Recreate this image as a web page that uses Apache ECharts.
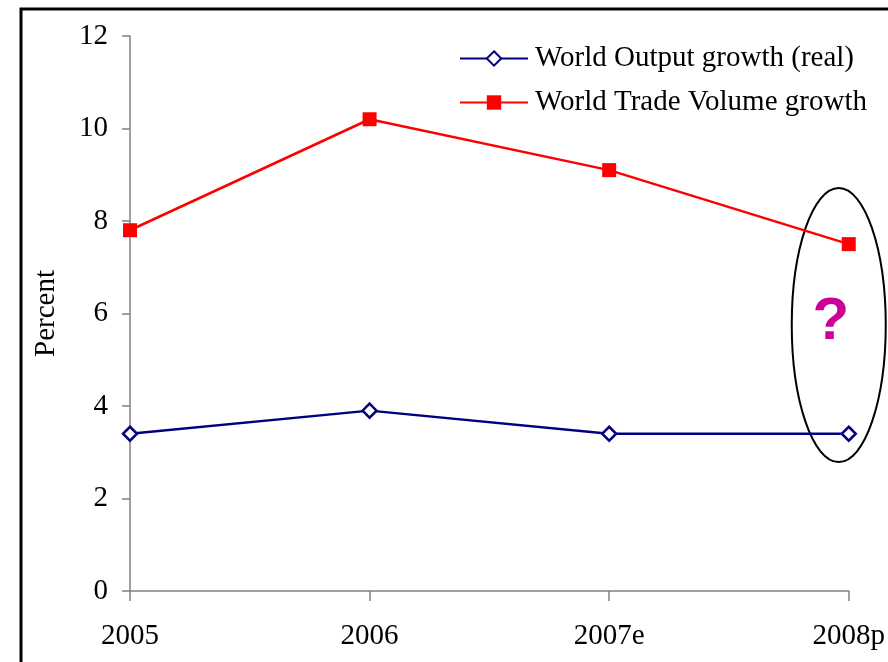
<!DOCTYPE html>
<html>
<head>
<meta charset="utf-8">
<script src="https://cdn.jsdelivr.net/npm/echarts@6/dist/echarts.min.js"></script>
<style>
  html, body { margin: 0; padding: 0; background: #fff; }
  #main { width: 888px; height: 662px; }
</style>
</head>
<body>
<div id="main"></div>
<script>
  // categories and values
  const years = ['2005', '2006', '2007e', '2008p'];
  const outputGrowth = [3.4, 3.9, 3.4, 3.4];
  const tradeGrowth = [7.8, 10.2, 9.1, 7.5];
  const seriesNames = ['World Output growth (real)', 'World Trade Volume growth'];

  const serif = '"Liberation Serif", "DejaVu Serif", serif';

  const chart = echarts.init(document.getElementById('main'));
  const option = {
    backgroundColor: '#fff',
    animation: false,
    textStyle: { fontFamily: serif },
    grid: {
      left: 130,
      right: 38,
      top: 36,
      bottom: 71
    },
    legend: {
      orient: 'vertical',
      left: 454,
      top: 39,
      itemWidth: 68,
      itemHeight: 18,
      itemGap: 15,
      textStyle: { fontFamily: serif, fontSize: 29, color: '#000', padding: [0, 0, 0, 2] },
      data: seriesNames
    },
    xAxis: {
      type: 'category',
      boundaryGap: false,
      data: years,
      axisLine: { lineStyle: { color: '#808080', width: 1.5 } },
      axisTick: { alignWithLabel: true, length: 10, lineStyle: { color: '#808080', width: 1.5 } },
      axisLabel: { fontFamily: serif, fontSize: 29, color: '#000', margin: 31 },
      splitLine: { show: false }
    },
    yAxis: {
      type: 'value',
      min: 0,
      max: 12,
      interval: 2,
      name: 'Percent',
      nameLocation: 'middle',
      nameGap: 69,
      nameTextStyle: { fontFamily: serif, fontSize: 29, color: '#000' },
      axisLine: { show: true, lineStyle: { color: '#808080', width: 1.5 } },
      axisTick: { show: true, length: 8, lineStyle: { color: '#808080', width: 1.5 } },
      axisLabel: { fontFamily: serif, fontSize: 29, color: '#000', margin: 22 },
      splitLine: { show: false }
    },
    series: [
      {
        name: seriesNames[0],
        type: 'line',
        data: outputGrowth,
        color: '#000080',
        symbol: 'diamond',
        symbolSize: 14,
        showAllSymbol: true,
        lineStyle: { color: '#000080', width: 2.5 },
        itemStyle: { color: '#fff', borderColor: '#000080', borderWidth: 2.5 }
      },
      {
        name: seriesNames[1],
        type: 'line',
        data: tradeGrowth,
        color: '#ff0000',
        symbol: 'rect',
        symbolSize: 14,
        showAllSymbol: true,
        lineStyle: { color: '#ff0000', width: 2.5 },
        itemStyle: { color: '#ff0000' }
      }
    ]
  };
  chart.setOption(option);

  // annotation: ellipse with question mark around the 2008p projection
  const c = chart.convertToPixel({ gridIndex: 0 }, ['2008p', 5.75]);
  chart.setOption({
    graphic: [
      {
        type: 'rect',
        shape: { x: 21, y: 9, width: 900, height: 700 },
        style: { fill: 'none', stroke: '#000', lineWidth: 3 },
        silent: true
      },
      {
        type: 'ellipse',
        shape: { cx: c[0] - 10, cy: c[1], rx: 47, ry: 137 },
        style: { fill: 'none', stroke: '#000', lineWidth: 2 },
        silent: true
      },
      {
        type: 'text',
        x: c[0] - 18,
        y: c[1] - 3,
        style: {
          text: '?',
          fill: '#cc0099',
          font: 'bold 60px "Liberation Sans", Arial, sans-serif',
          align: 'center',
          verticalAlign: 'middle'
        },
        silent: true
      }
    ]
  });
</script>
</body>
</html>
